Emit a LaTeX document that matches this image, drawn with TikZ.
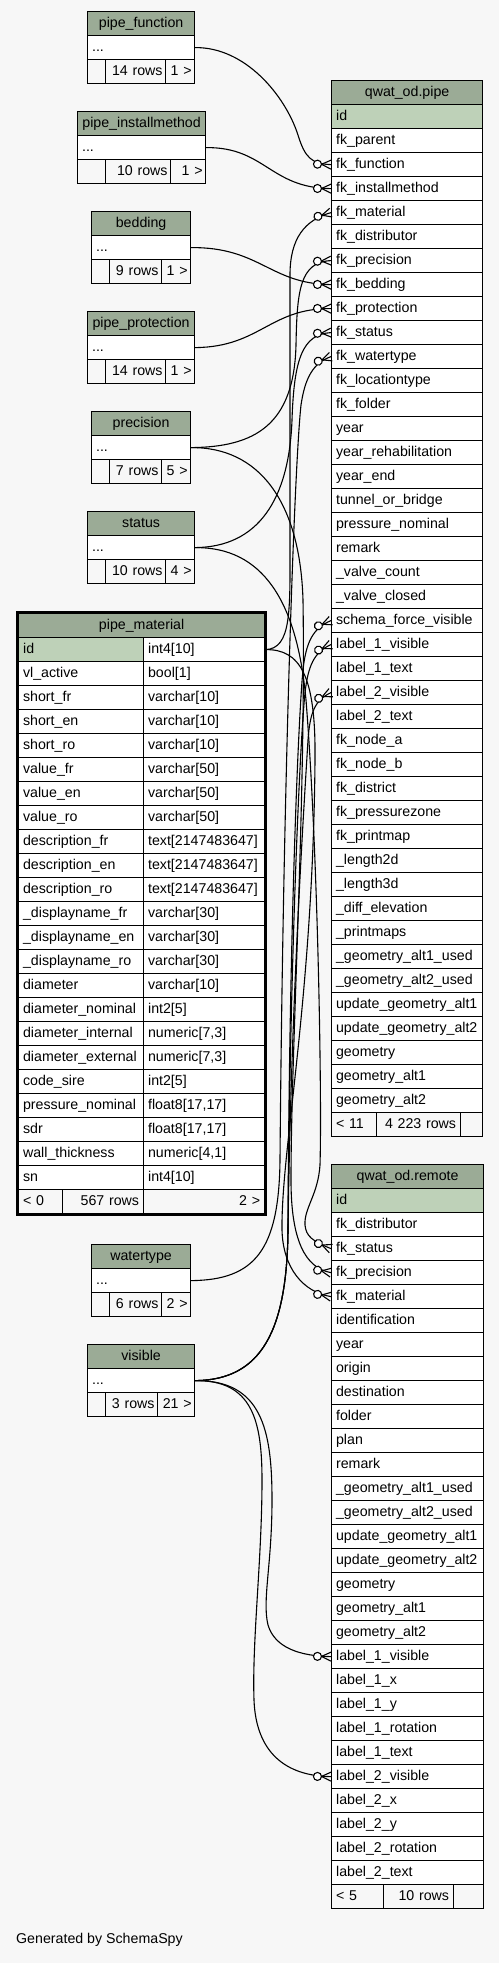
\documentclass[tikz,border=0pt]{standalone}
\usepackage{fontspec}
\setmainfont{Liberation Sans}
\usetikzlibrary{decorations.markings}
\definecolor{bgc}{HTML}{F7F7F7}
\definecolor{hdrc}{HTML}{9BAB96}
\definecolor{pkc}{HTML}{BED1B8}
\tikzset{
  base/.style={draw=black, line width=1.2pt, anchor=north west, minimum height=24pt,
    inner xsep=4.5pt, inner ysep=0pt, text height=10.5pt, text depth=3pt,
    font=\fontsize{14.2}{16}\selectfont},
  hdr/.style={base, fill=hdrc},
  cellL/.style={base, fill=white, align=left},
  pkcell/.style={base, fill=pkc, align=left},
  foot/.style={base, fill=bgc},
  fk/.style={line width=1.1pt, postaction={decorate}, decoration={markings,
    mark=at position 0.9999 with {
      \draw[line width=1.1pt] (-9.5,0) -- (0,4.5) (-9.5,0) -- (0,-4.5);
      \draw[line width=1.1pt, fill=white] (-13.5,0) circle (4);}}},
}
% small table: name, x1, x2, ytop, d1, d2, title, rows, k
\newcommand\smalltab[9]{%
  \pgfmathsetmacro\wW{#3-#2}\pgfmathsetmacro\wT{#3-#2-9}%
  \pgfmathsetmacro\wA{#5-#2}\pgfmathsetmacro\wB{#6-#5-6}\pgfmathsetmacro\wC{#3-#6-6}%
  \node[hdr, minimum width=\wW pt] (#1-h) at (#2,#4) {#7};
  \node[cellL, text width=\wT pt] (#1-d) at (#2,#4+24) {...};
  \node[foot, minimum width=\wA pt] (#1-f1) at (#2,#4+48) {};
  \node[foot, inner xsep=3pt, text width=\wB pt, align=right] (#1-f2) at (#5,#4+48) {#8};
  \node[foot, inner xsep=3pt, text width=\wC pt, align=right] (#1-f3) at (#6,#4+48) {#9};
}
% rows of a column: prefix, x, ytop of first row, width, list
\newcommand\colrows[5]{%
  \pgfmathsetmacro\wR{#4-9}%
  \foreach \txt [count=\i from 1] in {#5} {
    \node[cellL, text width=\wR pt] (#1-\i) at (#2,{#3+24*(\i-1)}) {\txt};
  }
}
\begin{document}
\begin{tikzpicture}[x=1pt,y=-1pt]
\useasboundingbox (0,0) rectangle (499,1963);
\fill[bgc] (0,0) rectangle (499,1963);

% ---------- small tables ----------
\smalltab{pf}{87}{194}{11}{105}{165}{pipe\_function}{14 rows}{1 >}
\smalltab{pim}{77}{205}{111}{105}{170}{pipe\_installmethod}{10 rows}{1 >}
\smalltab{bed}{91}{190}{211}{109}{161}{bedding}{9 rows}{1 >}
\smalltab{pp}{87}{194}{311}{105}{165}{pipe\_protection}{14 rows}{1 >}
\smalltab{prec}{91}{190}{411}{109}{161}{precision}{7 rows}{5 >}
\smalltab{stat}{87}{194}{511}{105}{165}{status}{10 rows}{4 >}
\smalltab{wt}{91}{190}{1244}{109}{161}{watertype}{6 rows}{2 >}
\smalltab{vis}{87}{194}{1344}{105}{157}{visible}{3 rows}{21 >}

% ---------- pipe_material ----------
\node[hdr, minimum width=246pt] (pm-h) at (18,613) {pipe\_material};
\node[pkcell, text width=116pt] (pmn-0) at (18,637) {id};
\node[cellL, text width=112pt] (pmt-0) at (143,637) {int4[10]};
\colrows{pmn}{18}{661}{125}{vl\_active,short\_fr,short\_en,short\_ro,value\_fr,value\_en,value\_ro,description\_fr,description\_en,description\_ro,\_displayname\_fr,\_displayname\_en,\_displayname\_ro,diameter,diameter\_nominal,diameter\_internal,diameter\_external,code\_sire,pressure\_nominal,sdr,wall\_thickness,sn}
\colrows{pmt}{143}{661}{121}{bool[1],varchar[10],varchar[10],varchar[10],varchar[50],varchar[50],varchar[50],text[2147483647],text[2147483647],text[2147483647],varchar[30],varchar[30],varchar[30],varchar[10],int2[5],{numeric[7,3]},{numeric[7,3]},int2[5],{float8[17,17]},{float8[17,17]},{numeric[4,1]},int4[10]}
\node[foot, text width=35pt, align=left] (pm-f1) at (18,1189) {< 0};
\node[foot, text width=72pt, align=right] (pm-f2) at (62,1189) {567 rows};
\node[foot, text width=112pt, align=right] (pm-f3) at (143,1189) {2 >};
\draw[line width=3pt] (17,612) rectangle (265,1214);

% ---------- qwat_od.pipe ----------
\node[hdr, minimum width=151pt] (pipe-h) at (331,80) {qwat\_od.pipe};
\node[pkcell, text width=142pt] (pipe-0) at (331,104) {id};
\colrows{pipe}{331}{128}{151}{fk\_parent,fk\_function,fk\_installmethod,fk\_material,fk\_distributor,fk\_precision,fk\_bedding,fk\_protection,fk\_status,fk\_watertype,fk\_locationtype,fk\_folder,year,year\_rehabilitation,year\_end,tunnel\_or\_bridge,pressure\_nominal,remark,\_valve\_count,\_valve\_closed,schema\_force\_visible,label\_1\_visible,label\_1\_text,label\_2\_visible,label\_2\_text,fk\_node\_a,fk\_node\_b,fk\_district,fk\_pressurezone,fk\_printmap,\_length2d,\_length3d,\_diff\_elevation,\_printmaps,\_geometry\_alt1\_used,\_geometry\_alt2\_used,update\_geometry\_alt1,update\_geometry\_alt2,geometry,geometry\_alt1,geometry\_alt2}
\node[foot, text width=36pt, align=left] (pipe-f1) at (331,1112) {< 11};
\node[foot, text width=75pt, align=right] (pipe-f2) at (376,1112) {4 223 rows};
\node[foot, minimum width=22pt] (pipe-f3) at (460,1112) {};

% ---------- qwat_od.remote ----------
\node[hdr, minimum width=152pt] (rem-h) at (331,1164) {qwat\_od.remote};
\node[pkcell, text width=143pt] (rem-0) at (331,1188) {id};
\colrows{rem}{331}{1212}{152}{fk\_distributor,fk\_status,fk\_precision,fk\_material,identification,year,origin,destination,folder,plan,remark,\_geometry\_alt1\_used,\_geometry\_alt2\_used,update\_geometry\_alt1,update\_geometry\_alt2,geometry,geometry\_alt1,geometry\_alt2,label\_1\_visible,label\_1\_x,label\_1\_y,label\_1\_rotation,label\_1\_text,label\_2\_visible,label\_2\_x,label\_2\_y,label\_2\_rotation,label\_2\_text}
\node[foot, text width=43pt, align=left] (rem-f1) at (331,1884) {< 5};
\node[foot, text width=61pt, align=right] (rem-f2) at (383,1884) {10 rows};
\node[foot, minimum width=30pt] (rem-f3) at (453,1884) {};

\node[anchor=west, inner sep=0pt, font=\fontsize{14.2}{16}\selectfont] (gen) at (16,1940) {Generated by SchemaSpy};

% ---------- connectors ----------
\draw[fk] (pf-d.east) .. controls (245,47) and (285,95) .. (298,135) .. controls (305,158) and (312,164) .. (pipe-2.west);
\draw[fk] (pim-d.east) .. controls (265,147) and (270,188) .. (pipe-3.west);
\draw[fk] (bed-d.east) .. controls (260,247) and (270,284) .. (pipe-7.west);
\draw[fk] (pp-d.east) .. controls (260,347) and (270,308) .. (pipe-8.west);
\draw[fk] (prec-d.east) .. controls (255,447) and (294,425) .. (296,345) .. controls (297,290) and (300,262) .. (pipe-6.west);
\draw[fk] (stat-d.east) .. controls (258,547) and (289,500) .. (292,420) .. controls (294,360) and (302,334) .. (pipe-9.west);
\draw[fk] (pmt-0.east) .. controls (292,649) and (290,610) .. (290,540) -- (290,275) .. controls (290,238) and (305,220) .. (pipe-4.west);
\draw[fk] (wt-d.east) .. controls (255,1280) and (279,1250) .. (280,1160) .. controls (283,800) and (294,470) .. (301,405) .. controls (305,378) and (313,363) .. (pipe-10.west);
\draw[fk] (vis-d.east) .. controls (262,1380) and (287,1330) .. (288,1230) .. controls (289,950) and (298,720) .. (303,670) .. controls (306,642) and (313,628) .. (pipe-21.west);
\draw[fk] (vis-d.east) .. controls (262,1380) and (287,1330) .. (288,1230) .. controls (290,960) and (300,740) .. (305,693) .. controls (308,666) and (314,652) .. (pipe-22.west);
\draw[fk] (vis-d.east) .. controls (262,1380) and (287,1330) .. (288,1230) .. controls (291,1000) and (305,790) .. (308,740) .. controls (310,712) and (315,700) .. (pipe-24.west);
\draw[fk] (vis-d.east) .. controls (262,1380) and (272,1430) .. (272,1500) .. controls (272,1565) and (262,1600) .. (268,1625) .. controls (275,1648) and (300,1656) .. (rem-19.west);
\draw[fk] (vis-d.east) .. controls (252,1380) and (262,1420) .. (262,1480) .. controls (262,1560) and (252,1640) .. (254,1700) .. controls (256,1752) and (285,1776) .. (rem-24.west);
\draw[fk] (stat-d.east) .. controls (262,547) and (297,600) .. (306,700) .. controls (318,850) and (322,1100) .. (320,1165) .. controls (318,1195) and (304,1208) .. (305,1225) .. controls (306,1236) and (312,1241) .. (rem-2.west);
\draw[fk] (prec-d.east) .. controls (258,447) and (300,500) .. (303,600) .. controls (306,800) and (291,1050) .. (291,1180) .. controls (291,1240) and (305,1268) .. (rem-3.west);
\draw[fk] (pmt-0.east) .. controls (300,649) and (316,675) .. (315,760) .. controls (313,1000) and (281,1150) .. (282,1230) .. controls (283,1268) and (303,1292) .. (rem-4.west);
\end{tikzpicture}
\end{document}
